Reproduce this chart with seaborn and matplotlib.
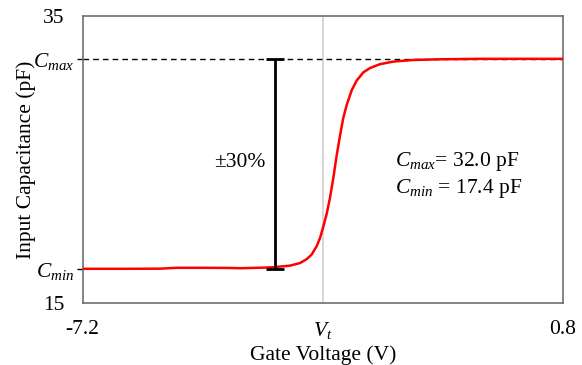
import matplotlib
matplotlib.use("Agg")
import matplotlib.pyplot as plt
import seaborn as sns
import pandas as pd

# C-V sweep of the input capacitance
gate_voltage = [-7.2, -6.5, -5.9, -5.63, -5.2, -4.75, -4.578, -4.2, -4.023, -3.745,
                -3.578, -3.467, -3.383, -3.30, -3.245, -3.190, -3.133, -3.078,
                -3.023, -2.967, -2.912, -2.857, -2.800, -2.717, -2.633, -2.523,
                -2.412, -2.245, -2.023, -1.690, -1.245, -0.575, 0.8]
capacitance = [17.40, 17.40, 17.41, 17.47, 17.47, 17.46, 17.44, 17.48, 17.51, 17.62,
               17.80, 18.07, 18.40, 18.98, 19.54, 20.33, 21.24, 22.36,
               23.72, 25.30, 26.66, 27.90, 28.80, 29.82, 30.50, 31.06,
               31.36, 31.63, 31.81, 31.92, 31.97, 32.0, 32.0]

C_MAX = 32.0
C_MIN = 17.4
V_T = -3.2
SWING_V = -4.0
X_RANGE = [-7.2, 0.8]
Y_RANGE = [15, 35]
x_tick_labels = ["-7.2", "$V_t$", "0.8"]
swing_label = "±30%"

df = pd.DataFrame({"Gate Voltage (V)": gate_voltage,
                   "Input Capacitance (pF)": capacitance})

sns.set_theme(style="white")
plt.rcParams["font.family"] = ["Liberation Serif", "DejaVu Serif"]
plt.rcParams["mathtext.fontset"] = "custom"
plt.rcParams["mathtext.rm"] = "Liberation Serif"
plt.rcParams["mathtext.it"] = "Liberation Serif:italic"
plt.rcParams["mathtext.default"] = "it"
for key in ("text.color", "axes.labelcolor", "xtick.color", "ytick.color"):
    plt.rcParams[key] = "black"

FS = 15.5
fig = plt.figure(figsize=(5.82, 3.65), dpi=100)
ax = fig.add_axes([0.142, 0.169, 0.825, 0.788])

# threshold marker and C_max reference
ax.axvline(V_T, color="#d0d0d0", lw=1.2, zorder=1)
ax.axhline(C_MAX, color="black", lw=1.0, ls=(0, (4, 3)), zorder=2)

sns.lineplot(data=df, x="Gate Voltage (V)", y="Input Capacitance (pF)",
             color="red", lw=1.8, ax=ax, zorder=3)

# capacitance swing bar
mid = (C_MAX + C_MIN) / 2
ax.errorbar([SWING_V], [mid], yerr=[[mid - C_MIN], [C_MAX - mid]],
            fmt="none", ecolor="black", elinewidth=2, capsize=6.3, capthick=2,
            zorder=4)
ax.text(SWING_V - 0.16, 24.8, swing_label, ha="right", va="center", fontsize=FS)

ax.text(-2.0, 24.85, f"$C_{{max}}$= {C_MAX:.1f} pF", ha="left", va="center",
        fontsize=FS)
ax.text(-2.0, 23.0, f"$C_{{min}}$ = {C_MIN:.1f} pF", ha="left", va="center",
        fontsize=FS)

ax.set_xlim(*X_RANGE)
ax.set_ylim(*Y_RANGE)
ax.set_xticks([X_RANGE[0], V_T, X_RANGE[1]], labels=x_tick_labels)
ax.set_yticks(Y_RANGE, labels=[str(v) for v in Y_RANGE])
ax.set_yticks([C_MIN, C_MAX], labels=["$C_{min}$", "$C_{max}$"], minor=True)
ax.tick_params(axis="x", length=0, pad=12, labelsize=FS)
ax.tick_params(axis="y", which="major", length=0, pad=13, labelsize=FS)
ax.tick_params(axis="y", which="minor", length=4, width=1, pad=2,
               labelsize=FS, left=True)

ax.set_xlabel("Gate Voltage (V)", fontsize=FS, labelpad=3)
ax.set_ylabel("Input Capacitance (pF)", fontsize=FS, labelpad=-2)

for s in ax.spines.values():
    s.set_color("#6e6e6e")
    s.set_linewidth(1.2)

fig.savefig("out.png", dpi=100)
